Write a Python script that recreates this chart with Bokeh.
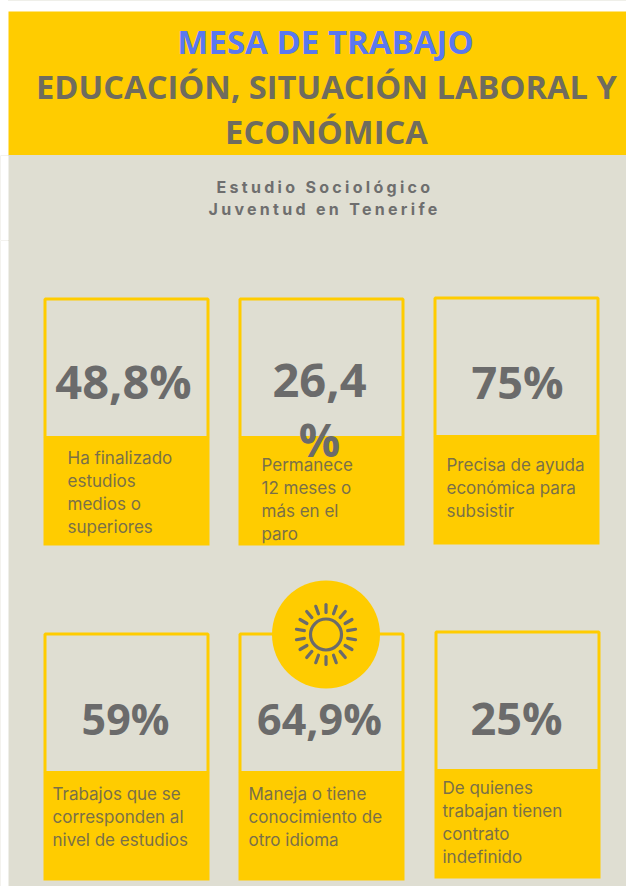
import numpy as np
from bokeh.plotting import figure
from bokeh.layouts import column
from bokeh.models import ColumnDataSource, Range1d, GlobalInlineStyleSheet
from bokeh.core.properties import value
from bokeh.embed import file_html
from bokeh.resources import INLINE

# content
heading = "MESA DE TRABAJO"
title_lines = ["EDUCACIÓN, SITUACIÓN LABORAL Y", "ECONÓMICA"]
subtitle_lines = ["Estudio Sociológico", "Juventud en Tenerife"]
stats = ["48,8%", "26,4", "75%", "59%", "64,9%", "25%"]
descriptions = [
    ["Ha finalizado", "estudios", "medios o", "superiores"],
    ["Permanece", "12 meses o", "más en el", "paro"],
    ["Precisa de ayuda", "económica para", "subsistir"],
    ["Trabajos que se", "corresponden al", "nivel de estudios"],
    ["Maneja o tiene", "conocimiento de", "otro idioma"],
    ["De quienes", "trabajan tienen", "contrato", "indefinido"],
]

# layout, in page pixels
YELLOW, BG, GREY, BLUE, INK = "#FFCC00", "#DFDED2", "#6B6B6B", "#5A78F0", "#7A7048"
card_left = [44, 239, 434, 44, 239, 435]
card_right = [210, 405, 600, 210, 405, 601]
card_top = [297, 297, 296, 632, 632, 630]
card_split = [437, 437, 436, 772, 772, 770]
card_bottom = [545, 545, 544, 880, 880, 878]
stat_x = [124, 320, 518, 126, 320, 517]
stat_y = [400, 400, 400, 736, 736, 736]
stat_size = [47, 47, 45, 43, 43, 45]
text_x = [68, 262, 447, 53, 249, 443]
text_y = [465, 472, 472, 801, 801, 795]
LINE = 22.8
SHIFT = 0.42  # the renderer sets alphabetic text this many em low


def panel(y0, y1, fill):
    f = figure(width=626, height=y1 - y0, x_range=Range1d(1, 627), y_range=Range1d(y1, y0),
               output_backend="svg", toolbar_location=None, min_border=0,
               x_axis_location=None, y_axis_location=None, outline_line_color=None,
               background_fill_color=fill, border_fill_color=fill)
    f.grid.visible = False
    return f


def put(f, xs, ys, texts, font, size, color, style="bold", align="center"):
    src = ColumnDataSource(dict(x=xs, y=[v - SHIFT * size for v in ys], t=texts))
    f.text(x="x", y="y", text="t", source=src, text_font=value(font),
           text_font_size=f"{size}px", text_color=color, text_font_style=style,
           text_align=align, text_baseline="alphabetic")


# header band
top = panel(0, 155, "#FFFFFF")
top.quad(left=[9], right=[627], top=[11], bottom=[155], fill_color=YELLOW, line_color=None)
put(top, [326], [55], [heading], "Open Sans", 33, BLUE)
put(top, [327, 327], [100, 145], title_lines, "Open Sans", 32.7, "#6F6C5E")

# subtitle strip, letter-spaced
mid = panel(155, 240, BG)
mid.styles = {"letter-spacing": "3.3px"}
mid.quad(left=[1], right=[9], top=[155], bottom=[240], fill_color="#FFFFFF", line_color=None)
put(mid, [217, 209], [193, 215], subtitle_lines, "Inter", 16, "#6E6E6E", align="left")

# cards
p = panel(240, 886, BG)
p.quad(left=[1], right=[9], top=[240], bottom=[886], fill_color="#FFFFFF", line_color=None)
p.quad(left=card_left, right=card_right, top=card_split, bottom=card_bottom,
       fill_color=YELLOW, line_color=None)
p.quad(left=[v + 1.5 for v in card_left], right=[v - 1.5 for v in card_right],
       top=[v + 1.5 for v in card_top], bottom=card_split,
       fill_color=BG, line_color=YELLOW, line_width=3)

# sun
cx, cy = 326.5, 634
p.circle(x=[cx], y=[cy], radius=54, fill_color=YELLOW, line_color=None)
p.circle(x=[cx], y=[cy], radius=15.5, fill_color=None, line_color=GREY, line_width=3.2)
angles = np.deg2rad(np.arange(0, 360, 20))
p.segment(x0=cx + 22 * np.sin(angles), y0=cy - 22 * np.cos(angles),
          x1=cx + 30 * np.sin(angles), y1=cy - 30 * np.cos(angles),
          line_color=GREY, line_width=3.2, line_cap="round")

for i, s in enumerate(stats):
    put(p, [stat_x[i]], [stat_y[i]], [s], "Open Sans", stat_size[i], GREY)
put(p, [320], [458], ["%"], "Open Sans", 46, GREY)

for i, lines in enumerate(descriptions):
    put(p, [text_x[i]] * len(lines), [text_y[i] + LINE * k for k in range(len(lines))],
        lines, "Inter", 17, INK, style="normal", align="left")

css = f"html,body{{margin:0;padding:0;background:linear-gradient(to right,#FFFFFF 8px,{BG} 8px)}}"
page = column(top, mid, p, spacing=0, stylesheets=[GlobalInlineStyleSheet(css=css)])
open("out.html", "w").write(file_html(page, INLINE))
